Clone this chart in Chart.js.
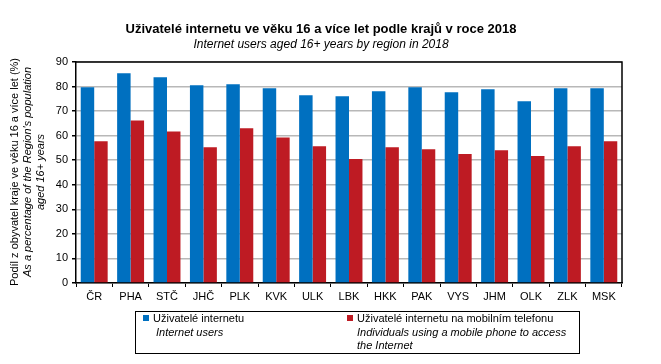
<!DOCTYPE html>
<html>
<head>
<meta charset="utf-8">
<script src="https://cdn.jsdelivr.net/npm/chart.js@4"></script>
<style>
  html, body { margin: 0; padding: 0; background: #fff; }
  #wrap { width: 661px; height: 364px; position: relative; }
</style>
</head>
<body>
<div id="wrap"><canvas id="chart" width="661" height="364"></canvas></div>
<script>
const regions = ['ČR', 'PHA', 'STČ', 'JHČ', 'PLK', 'KVK', 'ULK', 'LBK', 'HKK', 'PAK', 'VYS', 'JHM', 'OLK', 'ZLK', 'MSK'];
const internetUsers = [79.7, 85.4, 83.8, 80.5, 80.9, 79.3, 76.5, 76.1, 78.1, 79.7, 77.7, 78.9, 74.0, 79.3, 79.3];
const mobileUsers = [57.7, 66.2, 61.7, 55.3, 63.0, 59.3, 55.7, 50.5, 55.3, 54.5, 52.5, 54.1, 51.7, 55.7, 57.7];
const yTicks = [0, 10, 20, 30, 40, 50, 60, 70, 80, 90];

const titleCz = 'Uživatelé internetu ve věku 16 a více let podle krajů v roce 2018';
const titleEn = 'Internet users aged 16+ years by region in 2018';
const yLabelLines = [
    'Podíl z obyvatel kraje ve věku 16 a více let (%)',
    'As a percentage of the Region\'s population',
    'aged 16+ years'
];
const legendCz = ['Uživatelé internetu', 'Uživatelé internetu na mobilním telefonu'];
const legendEn = [['Internet users'], ['Individuals using a mobile phone to access', 'the Internet']];

const BLUE = '#0070C0';
const RED = '#BE1B23';
const FONT = '"Liberation Sans", Arial, sans-serif';

// draws title, y axis caption, frame and legend box
const decorations = {
    id: 'decorations',
    afterDraw(chart) {
        const ctx = chart.ctx;
        const area = chart.chartArea;
        ctx.save();

        // titles
        ctx.fillStyle = '#000';
        ctx.textAlign = 'center';
        ctx.textBaseline = 'middle';
        ctx.font = 'bold 13px ' + FONT;
        ctx.fillText(titleCz, 321, 29);
        ctx.font = 'italic 12px ' + FONT;
        ctx.fillText(titleEn, 321, 45);

        // y caption, rotated
        ctx.save();
        ctx.translate(0, 172);
        ctx.rotate(-Math.PI / 2);
        ctx.font = '11px ' + FONT;
        ctx.fillText(yLabelLines[0], 0, 15);
        ctx.font = 'italic 11px ' + FONT;
        ctx.fillText(yLabelLines[1], 0, 28);
        ctx.fillText(yLabelLines[2], 0, 41);
        ctx.restore();

        // top and right frame
        ctx.strokeStyle = '#000';
        ctx.lineWidth = 1.5;
        ctx.beginPath();
        ctx.moveTo(area.left, area.top);
        ctx.lineTo(area.right, area.top);
        ctx.lineTo(area.right, area.bottom);
        ctx.stroke();

        // legend box
        ctx.lineWidth = 1;
        ctx.strokeRect(135.5, 311.5, 444, 42);
        ctx.textAlign = 'left';
        const cols = [143, 347];
        const colors = [BLUE, RED];
        cols.forEach((x, i) => {
            ctx.fillStyle = colors[i];
            ctx.fillRect(x, 315, 6, 6);
            ctx.fillStyle = '#000';
            ctx.font = '11px ' + FONT;
            ctx.fillText(legendCz[i], x + 10, 319);
            ctx.font = 'italic 11px ' + FONT;
            legendEn[i].forEach((line, j) => {
                ctx.fillText(line, x + (i === 0 ? 13 : 10), 333 + j * 13);
            });
        });
        ctx.restore();
    }
};

const ctx = document.getElementById('chart').getContext('2d');
new Chart(ctx, {
    type: 'bar',
    data: {
        labels: regions,
        datasets: [
            {
                label: legendCz[0],
                data: internetUsers,
                backgroundColor: BLUE,
                barPercentage: 1,
                categoryPercentage: 0.74
            },
            {
                label: legendCz[1],
                data: mobileUsers,
                backgroundColor: RED,
                barPercentage: 1,
                categoryPercentage: 0.74
            }
        ]
    },
    options: {
        responsive: false,
        animation: false,
        layout: {
            padding: { top: 62, right: 39, left: 0, bottom: 0 }
        },
        plugins: {
            legend: { display: false },
            tooltip: { enabled: false }
        },
        scales: {
            x: {
                afterFit: scale => { scale.height = 81; },
                grid: {
                    offset: true,
                    drawOnChartArea: false,
                    tickLength: 4,
                    tickColor: '#000'
                },
                border: { color: '#000', width: 1.5 },
                ticks: {
                    color: '#000',
                    padding: 3,
                    font: { family: FONT, size: 11 },
                    maxRotation: 0
                }
            },
            y: {
                min: 0,
                max: 90,
                afterFit: scale => { scale.width = 76; },
                afterBuildTicks: scale => { scale.ticks = yTicks.map(v => ({ value: v })); },
                grid: {
                    color: '#B8B8B8',
                    lineWidth: 1.5,
                    tickLength: 4,
                    tickColor: '#000'
                },
                border: { color: '#000', width: 1.5 },
                ticks: {
                    color: '#000',
                    padding: 4,
                    font: { family: FONT, size: 11 }
                }
            }
        }
    },
    plugins: [decorations]
});
</script>
</body>
</html>
